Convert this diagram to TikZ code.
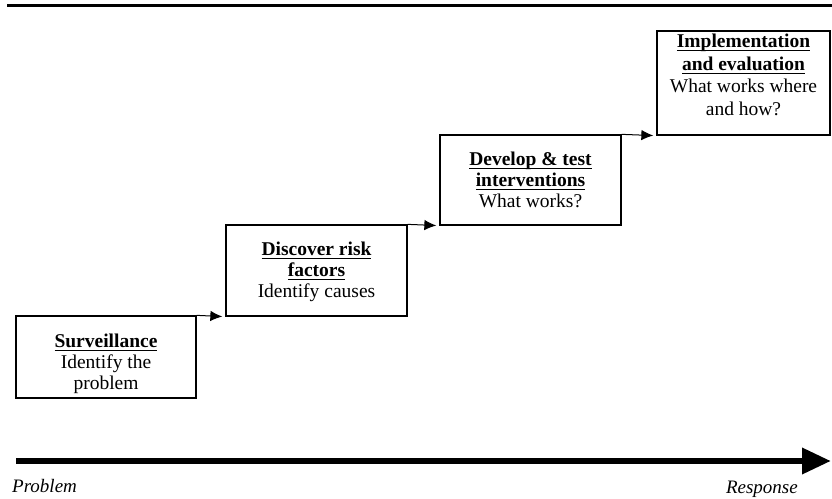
\documentclass[tikz,border=0pt]{standalone}
\usepackage{fontspec}
\setmainfont{Liberation Serif}
\usetikzlibrary{arrows.meta}
\newcommand\myul[1]{\leavevmode\setbox0=\hbox{#1}\rlap{\raisebox{-3.6pt}{\rule{\wd0}{1.2pt}}}\box0}
\begin{document}
\begin{tikzpicture}[x=1pt,y=-1pt,
  box/.style={draw, line width=1.3pt, inner sep=0pt},
  lbl/.style={align=center, anchor=north, inner sep=0pt, font=\fontsize{19.5}{21}\selectfont},
  stagearrow/.style={-{Latex[length=12pt,width=10.5pt]}, line width=1pt, shorten >=3pt},
  axislabel/.style={inner sep=0pt, font=\fontsize{19}{20}\selectfont\itshape}]
\useasboundingbox (0,0) rectangle (832,498);
% top rule
\coordinate (ra) at (7,5.5);
\coordinate (rb) at (832,5.5);
\draw[line width=3pt] (ra) -- (rb);
% boxes
\node[box, minimum width=180pt, minimum height=82pt] (s) at (106,357) {};
\node[box, minimum width=181pt, minimum height=91pt] (d) at (316.5,270.5) {};
\node[box, minimum width=181pt, minimum height=90pt] (v) at (530.5,180) {};
\node[box, minimum width=173pt, minimum height=104pt] (i) at (743.5,83) {};
% texts
\node[lbl] (st) at (106,334) {\textbf{\myul{Surveillance}}\\Identify the\\problem};
\node[lbl] (dt) at (316.5,242) {\textbf{\myul{Discover risk}}\\\textbf{\myul{factors}}\\Identify causes};
\node[lbl] (vt) at (530.5,152) {\textbf{\myul{Develop \& test}}\\\textbf{\myul{interventions}}\\What works?};
\node[lbl, font=\fontsize{19.5}{22.5}\selectfont] (it) at (743.5,34) {\textbf{\myul{Implementation}}\\\textbf{\myul{and evaluation}}\\What works where\\and how?};
% stage arrows
\draw[stagearrow] (s.north east) -- (d.south west);
\draw[stagearrow] (d.north east) -- (v.south west);
\draw[stagearrow] (v.north east) -- (i.south west);
% big axis arrow
\coordinate (pa) at (16,461);
\coordinate (pb) at (831,461);
\draw[line width=6.5pt, -{Triangle[length=29pt,width=25pt]}] (pa) -- (pb);
\node[axislabel, anchor=base west] (pl) at (12,492) {Problem};
\node[axislabel, anchor=base east] (rl) at (798,493) {Response};
\end{tikzpicture}
\end{document}
